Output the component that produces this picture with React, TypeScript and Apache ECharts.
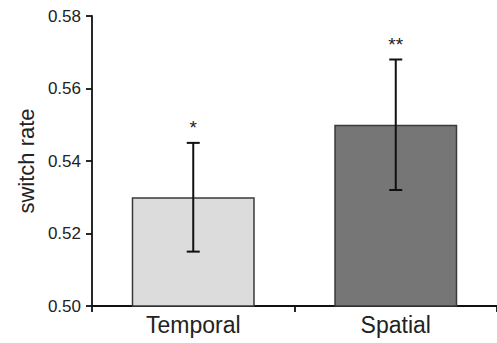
import React, { useEffect, useRef } from "react";
import * as echarts from "echarts";

const categories = ["Temporal", "Spatial"];
const means = [0.53, 0.55];
const errLow = [0.515, 0.532];
const errHigh = [0.545, 0.568];
const sigLabels = ["*", "**"];
const barColors = ["#dcdcdc", "#767676"];
const yTicks = { min: 0.5, max: 0.58, interval: 0.02 };

const FONT = "'Liberation Sans', Arial, Helvetica, sans-serif";

export default function App() {
  const ref = useRef<HTMLDivElement>(null);
  useEffect(() => {
    if (!ref.current) return;
    const chart = echarts.init(ref.current, null, { renderer: "svg" });
    const errData = categories.map((c, i) => [i, errLow[i], errHigh[i], sigLabels[i]]);
    chart.setOption({
      animation: false,
      grid: { left: 92, right: -4, top: 16, bottom: 37 },
      xAxis: {
        type: "category",
        data: categories,
        axisLine: { lineStyle: { color: "#111", width: 1.8 } },
        axisTick: { show: true, length: 6, alignWithLabel: false, lineStyle: { color: "#111", width: 1.8 } },
        axisLabel: { fontFamily: FONT, fontSize: 23, color: "#222", margin: 7 },
      },
      yAxis: {
        type: "value",
        min: yTicks.min,
        max: yTicks.max,
        interval: yTicks.interval,
        name: "switch rate",
        nameLocation: "middle",
        nameGap: 55,
        nameTextStyle: { fontFamily: FONT, fontSize: 22, color: "#222" },
        axisLine: { show: true, lineStyle: { color: "#111", width: 1.8 } },
        axisTick: { show: true, length: 6, lineStyle: { color: "#111", width: 1.8 } },
        splitLine: { show: false },
        axisLabel: {
          fontFamily: FONT,
          fontSize: 17,
          color: "#222",
          margin: 11,
          formatter: (v: number) => v.toFixed(2),
        },
      },
      series: [
        {
          type: "bar",
          barWidth: 123,
          data: means.map((v, i) => ({
            value: v,
            itemStyle: { color: barColors[i], borderColor: "#3a3a3a", borderWidth: 1.5 },
          })),
        },
        {
          type: "custom",
          data: errData,
          z: 10,
          renderItem: (params: any, api: any) => {
            const x = api.coord([api.value(0), api.value(1)])[0];
            const yLow = api.coord([api.value(0), api.value(1)])[1];
            const yHigh = api.coord([api.value(0), api.value(2)])[1];
            const half = 6.5;
            const style = { stroke: "#111", lineWidth: 2 };
            return {
              type: "group",
              children: [
                { type: "line", shape: { x1: x, y1: yLow, x2: x, y2: yHigh }, style },
                { type: "line", shape: { x1: x - half, y1: yLow, x2: x + half, y2: yLow }, style },
                { type: "line", shape: { x1: x - half, y1: yHigh, x2: x + half, y2: yHigh }, style },
                {
                  type: "text",
                  x: x,
                  y: yHigh - 6,
                  style: {
                    text: sigLabels[params.dataIndex],
                    fontFamily: FONT,
                    fontSize: 19,
                    fill: "#222",
                    align: "center",
                    verticalAlign: "bottom",
                  },
                },
              ],
            };
          },
        },
      ],
    });
    return () => chart.dispose();
  }, []);
  return <div ref={ref} style={{ width: 497, height: 343, position: "absolute", left: 0, top: 0 }} />;
}
